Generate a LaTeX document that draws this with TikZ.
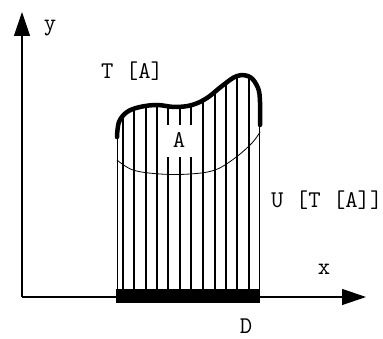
\documentclass[tikz,border=0pt]{standalone}
\usepackage{fontspec}
\usetikzlibrary{arrows.meta}

\begin{document}
\begin{tikzpicture}[
    x=1pt, y=-1pt,
    >={Triangle[length=24pt, width=16pt]},
    every node/.style={font=\ttfamily\fontsize{24}{24}\selectfont, inner sep=0pt},
    hatch/.style={line width=1.2pt},
  ]
  \useasboundingbox (0,0) rectangle (383,339);

  % === Axes ===
  \coordinate (O) at (22,297);
  \coordinate (xend) at (366,297);
  \coordinate (yend) at (22,12);
  \draw[->, line width=1.2pt] (O) -- (xend);
  \draw[->, line width=1.2pt] (O) -- (yend);
  \node[anchor=base] (xlbl) at (324,275) {x};
  \node[anchor=base] (ylbl) at (50,31) {y};

  % === Vertical hatching under T[A] ===
  \begin{scope}
    \clip (117,296) -- plot[smooth, tension=0.6] coordinates {
      (117,137) (119,122) (127,112) (140,107) (157,105) (175,107)
      (192,105) (207,98) (222,86) (237,76) (250,77) (258,88) (260,102) (260,125)}
      -- (260,296) -- cycle;
    \foreach \xx in {117,123,134,146,157,168,180,191,203,215,226,237,249,260}
      \draw[hatch] (\xx,296) -- (\xx,60);
  \end{scope}

  % === Lower edge of A ===
  \draw[line width=0.8pt] plot[smooth, tension=0.6] coordinates {
    (117,160) (133,170) (160,174) (190,174) (215,170) (235,158) (252,143) (260,132)};

  % === Upper edge T[A] (thick) ===
  \draw[line width=4.5pt, line cap=round] plot[smooth, tension=0.6] coordinates {
    (117,137) (119,122) (127,112) (140,107) (157,105) (175,107)
    (192,105) (207,98) (222,86) (237,76) (250,77) (258,88) (260,102) (260,125)};

  % === Domain D ===
  \fill (116,289) rectangle (260,303);
  \node[anchor=base] (dlbl) at (246,333) {D};

  % === Labels ===
  \node[fill=white, minimum width=28pt, minimum height=32pt] (albl) at (179,141) {};
  \node[anchor=base] at (albl.center |- 0,148) {A};
  \node[anchor=base west] (talbl) at (101,79) {T [A]};
  \node[anchor=base west] (utalbl) at (271,208) {U [T [A]]};

\end{tikzpicture}
\end{document}
